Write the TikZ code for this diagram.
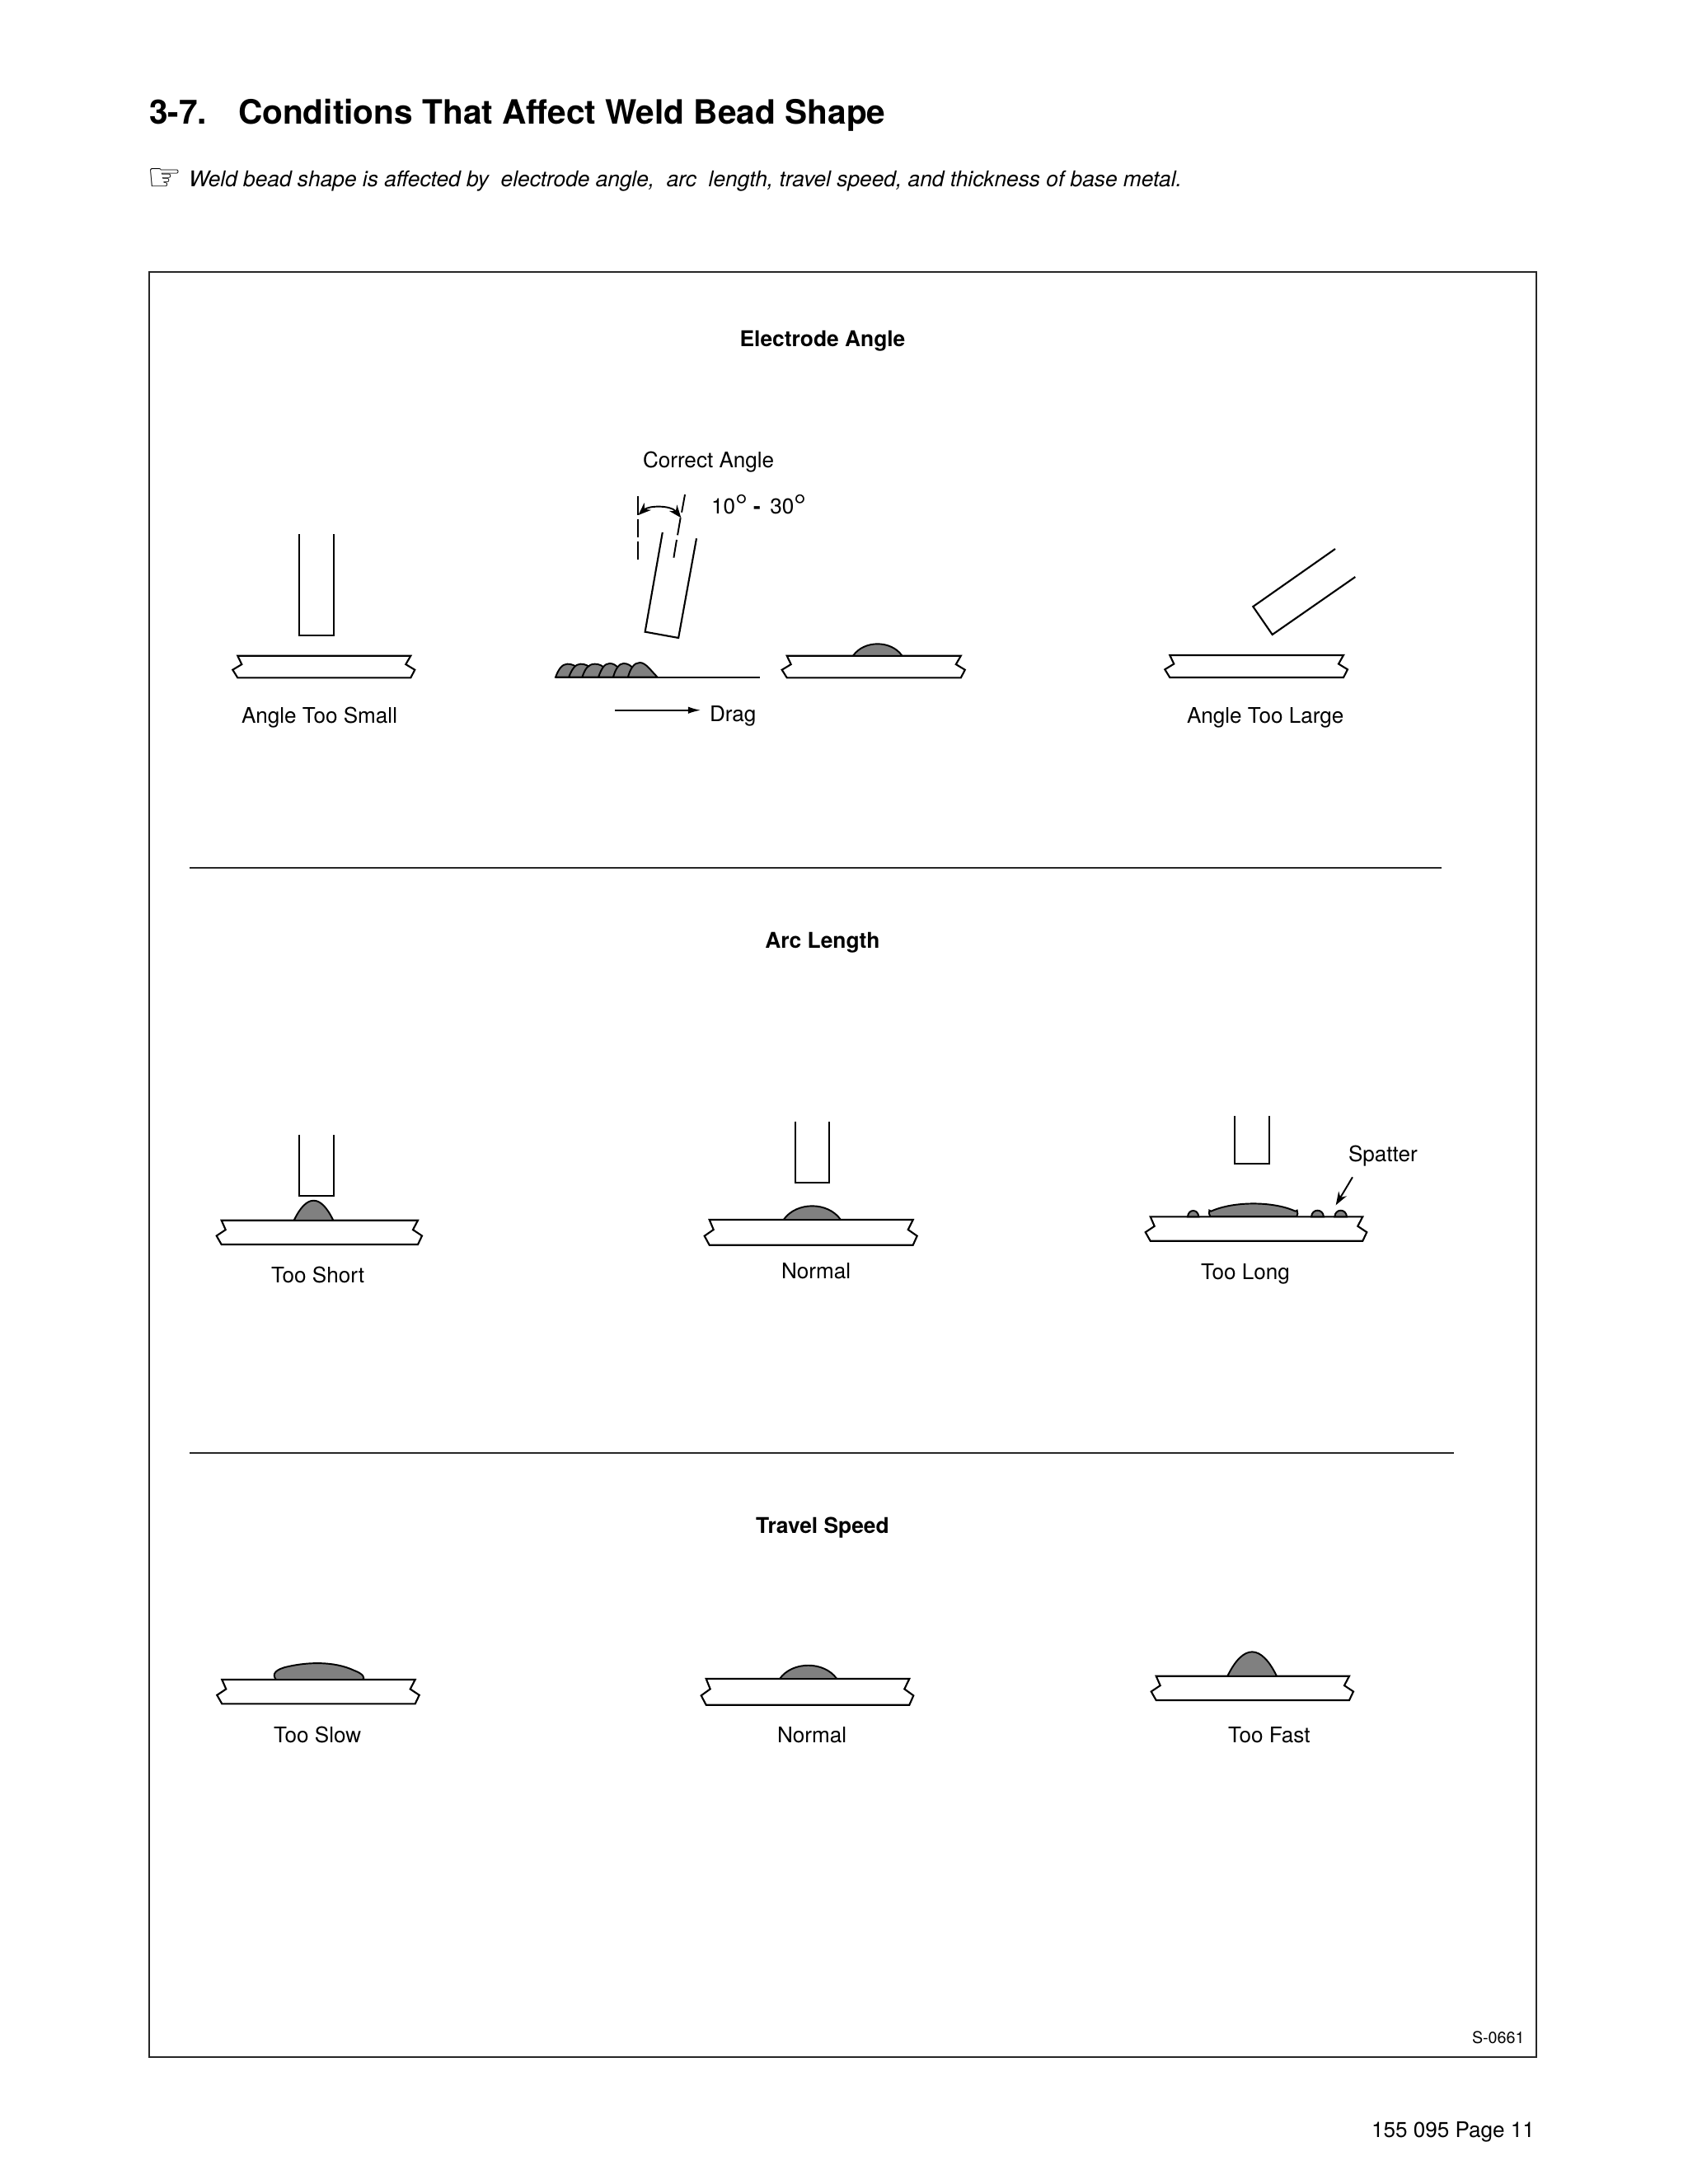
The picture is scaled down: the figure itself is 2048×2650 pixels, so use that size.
\documentclass[tikz,border=0pt]{standalone}
\usepackage{fontspec}
\setmainfont{TeX Gyre Heros}
\newfontfamily\symfont{DejaVu Sans}
\usetikzlibrary{arrows.meta}
\tikzset{
  outline/.style={draw=black,line width=0.6pt,line join=miter},
  beadfill/.style={draw=black,fill=beadgray,line width=0.55pt},
  framebox/.style={draw=black!85,line width=0.75pt},
  divider/.style={draw=black!85,line width=0.55pt},
  lab/.style={inner sep=0pt,outer sep=0pt,anchor=base west,text=black,font=\fontsize{7.42}{9}\selectfont},
  headlab/.style={inner sep=0pt,outer sep=0pt,anchor=base,text=black,font=\fontsize{7.5}{9}\selectfont\bfseries},
  titlelab/.style={inner sep=0pt,outer sep=0pt,anchor=base west,text=black,font=\fontsize{11.55}{13}\selectfont\bfseries},
  notelab/.style={inner sep=0pt,outer sep=0pt,anchor=base west,text=black,font=\fontsize{7.48}{9}\selectfont\itshape},
  leader/.style={draw=black,line width=0.55pt},
}
\definecolor{beadgray}{HTML}{808080}
% plate: left x, right x, top y, bottom y
\newcommand{\plate}[4]{%
  \pgfmathsetmacro{\pla}{#1+5}\pgfmathsetmacro{\plb}{#1-6}%
  \pgfmathsetmacro{\plc}{#2-6}\pgfmathsetmacro{\pld}{#2+5}%
  \pgfmathsetmacro{\ple}{#3+0.39*(#4-#3)}\pgfmathsetmacro{\plf}{#3+0.64*(#4-#3)}%
  \draw[outline,fill=white] (#1,#3) -- (#2,#3) -- (\plc,\ple) -- (\pld,\plf) -- (#2,#4) -- (#1,#4) -- (\plb,\plf) -- (\pla,\ple) -- cycle;}
% electrode: left x, right x, top y, bottom y
\newcommand{\electrode}[4]{\draw[outline] (#1,#3) -- (#1,#4) -- (#2,#4) -- (#2,#3);}
% bead: [control fraction] left x, right x, base y, height
\newcommand{\bead}[5][0.22]{%
  \pgfmathsetmacro{\bda}{#2+#1*(#3-#2)}\pgfmathsetmacro{\bdb}{#3-#1*(#3-#2)}%
  \pgfmathsetmacro{\bdc}{#4-1.333*#5}%
  \draw[beadfill] (#2,#4) .. controls (\bda,\bdc) and (\bdb,\bdc) .. (#3,#4) -- cycle;}
\newcommand{\degsign}{\raisebox{-0.9pt}{\fontsize{10.6}{10.6}\selectfont °}}
\begin{document}
\begin{tikzpicture}[x=0.01cm,y=-0.01cm]
\useasboundingbox (0,0) rectangle (2048,2650);
\fill[white] (0,0) rectangle (2048,2650);

% header
\node[titlelab] (num) at (181,150) {3-7.};
\node[titlelab] (title) at (289,150) {Conditions That Affect Weld Bead Shape};
\node[inner sep=0pt,anchor=base west,font=\symfont\fontsize{13.5}{14}\selectfont] (hand) at (178,231) {☞};
\node[notelab] (note) at (229,226.7) {Weld bead shape is affected by\ \ electrode angle,\ \ arc\ \ length, travel speed, and thickness of base metal.};

% frame and dividers
\draw[framebox] (181,330) rectangle (1864,2496);
\draw[divider] (230,1053) -- (1749,1053);
\draw[divider] (230,1763) -- (1764,1763);

% headings
\node[headlab] (h1) at (998,420) {Electrode Angle};
\node[headlab] (h2) at (998,1150) {Arc Length};
\node[headlab] (h3) at (998,1860) {Travel Speed};

% Electrode angle: too small
\electrode{363.3}{405}{648.3}{770.7}
\plate{288.3}{498.3}{795.7}{822.3}
\node[lab] (l1) at (293,877.7) {Angle Too Small};

% Electrode angle: correct
\begin{scope}[shift={(640,520)},xscale=0.3584,yscale=0.3333]
  \draw[outline] (457,378) -- (398,740) -- (511,762) -- (572,400);
  \draw[leader] (375,245) -- (375,315) (375,330) -- (375,395) (375,412) -- (375,478);
  \draw[leader] (533,240) -- (522,305) (518,325) -- (508,388) (505,405) -- (495,470);
  \draw[leader,{Stealth[length=4.4pt,width=3.4pt]}-{Stealth[length=4.4pt,width=3.4pt]}] (375,315) .. controls (410,280) and (485,278) .. (520,325);
  \draw[beadfill] (95,905) .. controls (105,875) and (118,857) .. (135,857) .. controls (150,857) and (160,862) .. (175,875) -- (175,905) -- cycle;
  \draw[beadfill] (140,905) .. controls (150,875) and (163,857) .. (180,857) .. controls (195,857) and (205,862) .. (225,880) -- (225,905) -- cycle;
  \draw[beadfill] (185,905) .. controls (195,875) and (205,857) .. (228,857) .. controls (243,857) and (253,862) .. (270,880) -- (270,905) -- cycle;
  \draw[beadfill] (240,905) .. controls (250,875) and (260,855) .. (278,855) .. controls (290,855) and (300,860) .. (315,880) -- (315,905) -- cycle;
  \draw[beadfill] (290,905) .. controls (298,875) and (310,855) .. (325,855) .. controls (340,855) and (350,862) .. (365,880) -- (365,905) -- cycle;
  \draw[beadfill] (340,905) .. controls (348,875) and (360,852) .. (380,852) .. controls (400,852) and (415,878) .. (440,905) -- cycle;
  \draw[outline] (95,905) -- (787,905);
\end{scope}
\node[lab] (l2) at (780,567) {Correct Angle};
\node[lab] (l3) at (863,623) {10\degsign\ \textbf{-}\ \,30\degsign};
\coordinate (dragstart) at (746,861.7);
\coordinate (dragend) at (850.4,861.7);
\draw[leader,-{Latex[length=4.4pt,width=2.4pt]}] (dragstart) -- (dragend);
\node[lab] (l4) at (861,875) {Drag};
\plate{954.7}{1165.8}{795.7}{822.3}
\bead{1035}{1094.5}{795.7}{14.4}

% Electrode angle: too large
\draw[outline] (1620,666) -- (1520.3,736) -- (1543.7,770) -- (1644.3,700);
\plate{1419.3}{1630}{795}{822}
\node[lab] (l5) at (1440,877.5) {Angle Too Large};

% Arc length: too short
\electrode{363.3}{405}{1376.7}{1450.7}
\plate{268.7}{507}{1480.7}{1510}
\bead[0.32]{356.7}{404.3}{1480.7}{24}
\node[lab] (l6) at (329,1556.7) {Too Short};

% Arc length: normal
\electrode{965}{1006.3}{1360.7}{1435}
\plate{860.7}{1107.7}{1480}{1510.7}
\bead{950.7}{1020}{1480}{16.7}
\node[lab] (l7) at (948,1551.7) {Normal};

% Arc length: too long
\electrode{1498.3}{1540}{1354}{1412.3}
\plate{1395.7}{1653.3}{1476.3}{1505.7}
\bead[0.05]{1441}{1454.3}{1476.3}{7.3}
\bead[0.05]{1591}{1606}{1476.3}{7.6}
\bead[0.05]{1619.3}{1634}{1476.3}{7.6}
\begin{scope}[shift={(1370,1330)},xscale=0.3333,yscale=0.3333]
  \draw[beadfill] (295,438) .. controls (290,432) and (290,424) .. (292,416) -- (298,419) .. controls (380,382) and (525,382) .. (605,419) -- (611,416) .. controls (614,424) and (614,432) .. (610,438) -- cycle;
\end{scope}
\coordinate (spatstart) at (1641,1428.3);
\coordinate (spatend) at (1620.7,1462.3);
\draw[leader,-{Stealth[length=4.6pt,width=3.2pt]}] (spatstart) -- (spatend);
\node[lab] (l8) at (1636,1409) {Spatter};
\node[lab] (l9) at (1457,1552.3) {Too Long};

% Travel speed: too slow
\plate{269.3}{503.7}{2038}{2067.3}
\draw[beadfill] (335,2038) .. controls (329,2031) and (335,2025) .. (350,2022) .. controls (372,2017) and (405,2015) .. (430,2027) .. controls (441,2031) and (443,2036) .. (440,2038) -- cycle;
\node[lab] (l10) at (332,2114.3) {Too Slow};

% Travel speed: normal
\plate{856.7}{1103.3}{2037}{2068.7}
\bead{946}{1015.3}{2037}{16.3}
\node[lab] (l11) at (943,2114.3) {Normal};

% Travel speed: too fast
\plate{1402.7}{1637}{2033.7}{2063}
\bead[0.32]{1489.3}{1549}{2033.7}{29.4}
\node[lab] (l12) at (1490,2114.3) {Too Fast};

% footer
\node[lab,font=\fontsize{5.6}{7}\selectfont] (code) at (1786,2479) {S-0661};
\node[lab] (page) at (1664,2593.3) {155 095 Page 11};
\end{tikzpicture}
\end{document}
